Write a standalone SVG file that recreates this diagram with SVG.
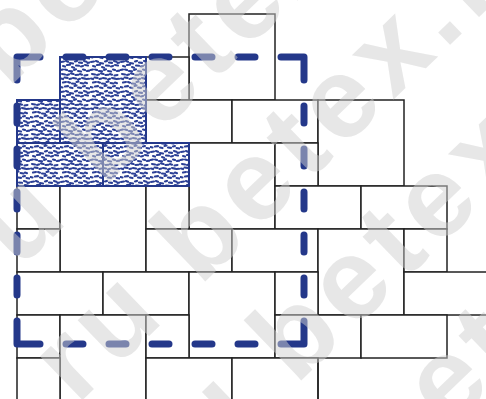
<svg xmlns="http://www.w3.org/2000/svg" width="486" height="399" viewBox="0 0 486 399">
  <style>
    .tile { fill: #ffffff; stroke: #222222; stroke-width: 1.5; }
    .hatch { fill: url(#speckle); stroke: #24388a; stroke-width: 2; }
    .zone { fill: none; stroke: #24388a; stroke-width: 7; stroke-linecap: round; stroke-linejoin: round;
            stroke-dasharray: 23 26 17 26 17 26 17 26 17 26 17 26 23 0; }
    .wm { font-family: "Liberation Sans", Arial, sans-serif; font-weight: bold; font-size: 115px;
          letter-spacing: 8px; fill: #d0d0d0; fill-opacity: 0.5; }
  </style>
  <defs>
    <pattern id="speckle" patternUnits="userSpaceOnUse" width="30" height="30">
      <rect width="30" height="30" fill="#ffffff"/>
      <path fill="none" stroke="#2b3f96" stroke-width="2.1" stroke-linecap="round"
        d="M1,2 l3,-0.5 M6,1 l2,0.8 M10,3 l3,0.5 M15,1.5 l2,-0.6 M19,2.5 l3,0.4 M24,1 l2.5,0.7 M27.5,3 l2,-0.5
           M3,6 l2,0.6 M7,5 l3,-0.4 M12,7 l2,0.7 M16,5.5 l3,0.3 M21,6.5 l2,-0.6 M25,5 l3,0.5
           M0.5,10 l2.5,-0.5 M5,9.5 l2,0.6 M9,11 l3,0.4 M14,10 l2,-0.7 M18,11 l3,0.5 M23,9.5 l2,0.6 M27,11 l2.5,-0.4
           M2,14 l3,0.5 M7,15 l2,-0.6 M11,13.5 l2.5,0.5 M15.5,15 l3,-0.3 M20,14 l2,0.7 M24.5,15.5 l3,-0.5
           M1,18.5 l2,0.6 M4.5,17.5 l3,0.4 M9.5,19 l2,-0.5 M13,18 l3,0.5 M18,19.5 l2,-0.7 M22,18 l3,0.6 M26.5,19 l2.5,-0.3
           M3,22.5 l3,-0.5 M8,22 l2,0.7 M12,23.5 l3,0.3 M16.5,22 l2,-0.5 M20.5,23 l3,0.5 M25,22.5 l2,0.7
           M0.5,27 l2,0.5 M5,26.5 l3,-0.4 M10,27.5 l2.5,0.6 M14.5,26 l2,-0.6 M18,27.5 l3,0.4 M23,26.5 l2,-0.5 M26.5,28 l3,0.5"/>
    </pattern>
  </defs>
  <rect width="486" height="399" fill="#ffffff"/>

  <g id="tiles">
    <rect class="tile" x="189" y="14" width="86" height="86"/>
    <rect class="tile" x="146" y="57" width="43" height="43"/>
    <rect class="tile" x="146" y="100" width="86" height="43"/>
    <rect class="tile" x="232" y="100" width="86" height="43"/>
    <rect class="tile" x="318" y="100" width="86" height="86"/>
    <rect class="tile" x="189" y="143" width="86" height="86"/>
    <rect class="tile" x="275" y="143" width="43" height="43"/>
    <rect class="tile" x="17" y="186" width="43" height="43"/>
    <rect class="tile" x="60" y="186" width="86" height="86"/>
    <rect class="tile" x="146" y="186" width="43" height="43"/>
    <rect class="tile" x="275" y="186" width="86" height="43"/>
    <rect class="tile" x="361" y="186" width="86" height="43"/>
    <rect class="tile" x="17" y="229" width="43" height="43"/>
    <rect class="tile" x="146" y="229" width="86" height="43"/>
    <rect class="tile" x="232" y="229" width="86" height="43"/>
    <rect class="tile" x="318" y="229" width="86" height="86"/>
    <rect class="tile" x="404" y="229" width="43" height="43"/>
    <rect class="tile" x="17" y="272" width="86" height="43"/>
    <rect class="tile" x="103" y="272" width="86" height="43"/>
    <rect class="tile" x="189" y="272" width="86" height="86"/>
    <rect class="tile" x="275" y="272" width="43" height="43"/>
    <rect class="tile" x="404" y="272" width="86" height="43"/>
    <rect class="tile" x="17" y="315" width="43" height="43"/>
    <rect class="tile" x="60" y="315" width="86" height="86"/>
    <rect class="tile" x="146" y="315" width="43" height="43"/>
    <rect class="tile" x="275" y="315" width="86" height="43"/>
    <rect class="tile" x="361" y="315" width="86" height="43"/>
    <rect class="tile" x="17" y="358" width="43" height="43"/>
    <rect class="tile" x="146" y="358" width="86" height="43"/>
    <rect class="tile" x="232" y="358" width="86" height="43"/>
    <path class="tile" d="M318,358 V401"/>
  </g>

  <g id="marked-tiles">
    <rect class="hatch" x="60" y="57" width="86" height="86"/>
    <rect class="hatch" x="17" y="100" width="43" height="43"/>
    <rect class="hatch" x="17" y="143" width="86" height="43"/>
    <rect class="hatch" x="103" y="143" width="86" height="43"/>
  </g>

  <g id="zone">
    <path class="zone" d="M17,57 H304 V344 H17 Z"/>
  </g>

  <g id="watermark">
    <text class="wm" transform="translate(-388.9,471.8) rotate(-44)">betex.ru betex.ru betex.ru</text>
    <text class="wm" transform="translate(-292.9,570.8) rotate(-44)">betex.ru betex.ru betex.ru</text>
    <text class="wm" transform="translate(-196.9,669.8) rotate(-44)">betex.ru betex.ru betex.ru</text>
    <text class="wm" transform="translate(-100.9,768.8) rotate(-44)">betex.ru betex.ru betex.ru</text>
    <text class="wm" transform="translate(-4.9,867.8) rotate(-44)">betex.ru betex.ru betex.ru</text>
  </g>
</svg>
